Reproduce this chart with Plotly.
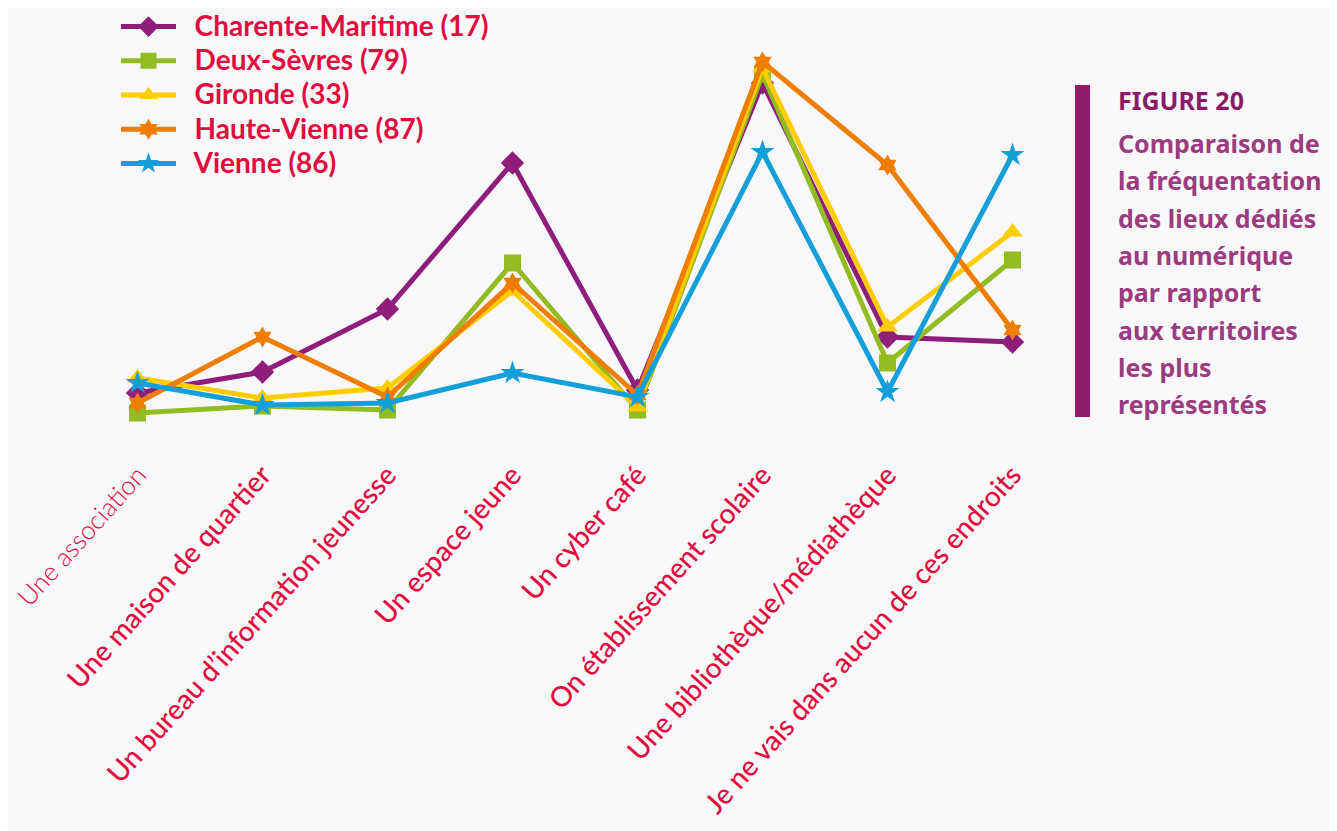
import plotly.graph_objects as go

categories = [
    "Une association",
    "Une maison de quartier",
    "Un bureau d\u2019information jeunesse",
    "Un espace jeune",
    "Un cyber café",
    "On établissement scolaire",
    "Une bibliothèque/médiathèque",
    "Je ne vais dans aucun de ces endroits",
]

series_names = [
    "Charente-Maritime (17)",
    "Deux-Sèvres (79)",
    "Gironde (33)",
    "Haute-Vienne (87)",
    "Vienne (86)",
]

charente_maritime = [9.4, 13.6, 26.2, 55.4, 10.0, 71.4, 20.6, 19.6]
deux_sevres = [5.4, 6.8, 6.0, 35.4, 6.0, 73.2, 15.4, 36.0]
gironde = [12.4, 8.4, 10.4, 29.8, 6.6, 74.4, 22.6, 41.6]
haute_vienne = [7.4, 20.6, 8.6, 31.4, 9.0, 75.6, 55.0, 22.0]
vienne = [11.4, 7.0, 7.4, 13.4, 8.6, 57.6, 9.6, 57.0]

values = [charente_maritime, deux_sevres, gironde, haute_vienne, vienne]
colors = ["#8e1e7a", "#93bb22", "#ffcc00", "#ef7d00", "#159fd9"]
symbols = ["diamond", "square", "triangle-up", "hexagram", "star"]
marker_sizes = [18, 17, 18, 16, 18]

title_line = "FIGURE 20"
desc_lines = [
    "Comparaison de",
    "la fréquentation",
    "des lieux dédiés",
    "au numérique",
    "par rapport",
    "aux territoires",
    "les plus",
    "représentés",
]

TEXT_RED = "#e20b3f"

fig = go.Figure()
x_idx = list(range(len(categories)))
for name, vals, col, sym, ms in zip(series_names, values, colors, symbols, marker_sizes):
    fig.add_trace(go.Scatter(
        x=x_idx, y=vals,
        name=f'<span style="font-size:28px">\u00a0\u00a0{name}</span>',
        mode="lines+markers",
        line=dict(color=col, width=5),
        marker=dict(symbol=sym, size=ms, color=col),
    ))

tick_text = [f'<span style="font-weight:300;font-size:26px">{categories[0]}</span>'] + categories[1:]

OFF = 8  # page body margin
W, H = 1337 - OFF, 831 - OFF
L, T, PW, PH = 75 - OFF, 40 - OFF, 1000, 400  # in figure pixels


def px(xref_px):
    return (xref_px - OFF - L) / PW


def py(yref_px):
    return (T + PH - (yref_px - OFF)) / PH


fig.update_layout(
    width=W, height=H,
    margin=dict(l=L, r=W - L - PW, t=T, b=H - T - PH, autoexpand=False),
    paper_bgcolor="#f8f8fa",
    plot_bgcolor="#f8f8fa",
    showlegend=True,
    legend=dict(
        x=px(116), y=py(95), xanchor="left", yanchor="middle",
        font=dict(family="Lato", size=24, color=TEXT_RED, weight=700),
        bgcolor="rgba(0,0,0,0)",
        itemwidth=55,
        tracegroupgap=0,
    ),
    xaxis=dict(
        range=[-0.5, 7.5], tickmode="array", tickvals=x_idx, ticktext=tick_text,
        tickangle=-48, showgrid=False, zeroline=False, showline=False,
        tickfont=dict(family="Lato", size=28, color=TEXT_RED, weight=500),
        ticklabelstandoff=12, ticklabeloverflow="allow",
    ),
    yaxis=dict(range=[0, 80], visible=False, showgrid=False, zeroline=False),
    shapes=[dict(
        type="rect", xref="paper", yref="paper",
        x0=px(1075), x1=px(1090), y0=py(417), y1=py(85),
        fillcolor="#8e1b6b", line=dict(width=0),
    )],
)

annotations = [dict(
    text=title_line, xref="paper", yref="paper", x=px(1116), y=py(100),
    xanchor="left", yanchor="middle", showarrow=False,
    font=dict(family="Noto Sans", size=25, color="#8a1a68", weight=700),
)]
for i, line in enumerate(desc_lines):
    annotations.append(dict(
        text=line, xref="paper", yref="paper", x=px(1116), y=py(143 + i * 37.3),
        xanchor="left", yanchor="middle", showarrow=False,
        font=dict(family="Noto Sans", size=25, color="#9c3b80", weight=700),
    ))
fig.update_layout(annotations=annotations)

fig.write_html("out.html")
